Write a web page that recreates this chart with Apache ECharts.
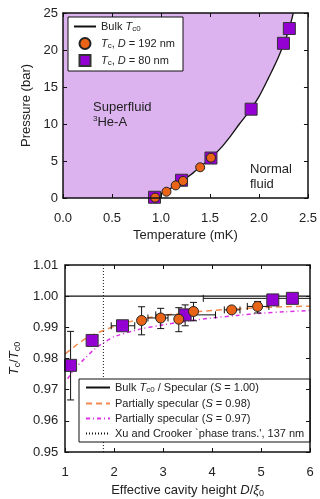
<!DOCTYPE html>
<html>
<head>
<meta charset="utf-8">
<script src="https://cdn.jsdelivr.net/npm/echarts@6/dist/echarts.min.js"></script>
<style>
    html, body { margin: 0; padding: 0; background: #fff; }
    #chart { width: 320px; height: 499px; }
</style>
</head>
<body>
<div id="chart"></div>
<script>
// top panel: phase diagram
var bulkT = [0.93, 1.0, 1.1, 1.2, 1.3, 1.4, 1.5, 1.6, 1.7, 1.8, 1.9, 2.0, 2.1, 2.2, 2.3, 2.35];
var bulkP = [0, 0.6, 1.3, 2.2, 3.1, 4.2, 5.3, 6.6, 8.2, 10.0, 11.7, 13.7, 16.3, 19.1, 22.5, 25];
var d192T = [0.94, 1.056, 1.15, 1.225, 1.40, 1.51];
var d192P = [0.05, 0.85, 1.7, 2.3, 4.15, 5.45];
var d80T = [0.934, 1.21, 1.51, 1.92, 2.25, 2.31];
var d80P = [0.1, 2.4, 5.4, 12.0, 20.9, 22.9];

// bottom panel: Tc/Tc0 vs D/xi0
var fitX = [1.0, 1.2, 1.4, 1.6, 1.8, 2.0, 2.5, 3.0, 3.5, 4.0, 4.5, 5.0, 5.5, 6.0];
var fit98 = [0.9815, 0.9840, 0.9862, 0.9878, 0.9891, 0.9903, 0.9925, 0.9938, 0.9947, 0.9954, 0.9959, 0.9963, 0.9966, 0.9968];
var fit97X = [1.05, 1.2, 1.4, 1.6, 1.8, 2.0, 2.5, 3.0, 3.5, 4.0, 4.5, 5.0, 5.5, 6.0];
var fit97 = [0.9735, 0.9768, 0.9800, 0.9830, 0.9852, 0.9870, 0.9893, 0.9908, 0.9920, 0.9930, 0.9938, 0.9945, 0.9950, 0.9954];
var specX = [1, 6];
var specY = [1.0, 1.0];
var xuX = [1.78, 1.78];
var xuY = [0.95, 1.01];

var sqX = [1.11, 1.55, 2.17, 3.45, 5.24, 5.64];
var sqY = [0.9778, 0.9858, 0.9905, 0.9940, 0.9988, 0.9993];
var sqXlo = [null, null, 1.94, 2.85, null, 3.82];
var sqXhi = [null, null, 2.42, 4.07, null, 6.6];
var sqYlo = [0.9667, 0.9850, null, 0.9905, 0.9978, null];
var sqYhi = [0.9887, 0.9868, null, 0.9972, 1.0005, null];

var ciX = [2.56, 2.95, 3.32, 3.62, 4.40, 4.93];
var ciY = [0.9922, 0.9930, 0.9926, 0.9951, 0.9956, 0.9967];
var ciXlo = [null, 2.69, null, null, 4.25, 4.72];
var ciXhi = [null, 3.10, null, null, 4.57, 5.16];
var ciYlo = [0.9876, 0.9896, 0.9886, 0.9921, 0.9950, 0.9946];
var ciYhi = [0.9966, 0.9961, 0.9963, 0.9980, 0.9962, 0.9983];

var FONT = '"Liberation Sans", Arial, sans-serif';
var PURPLE = '#9400d3';
var ORANGE = '#ea6417';
var SQUARE = 'path://M0,0H10V10H0Z';

function pairs(xs, ys) {
    return xs.map(function (x, i) { return [x, ys[i]]; });
}
function errRows(xs, ys, xlo, xhi, ylo, yhi) {
    var f = function (v) { return v === null ? '-' : v; };
    return xs.map(function (x, i) {
        return [x, ys[i], f(xlo[i]), f(xhi[i]), f(ylo[i]), f(yhi[i])];
    });
}
function renderErr(params, api) {
    var x = api.value(0), y = api.value(1);
    var st = { stroke: '#111', lineWidth: 1 };
    var cap = 3.5;
    var out = [];
    var seg = function (x1, y1, x2, y2) {
        out.push({ type: 'line', shape: { x1: x1, y1: y1, x2: x2, y2: y2 }, style: st });
    };
    var yl = api.value(4), yh = api.value(5);
    if (!isNaN(yl) && !isNaN(yh)) {
        var a = api.coord([x, yl]), b = api.coord([x, yh]);
        seg(a[0], a[1], b[0], b[1]);
        seg(a[0] - cap, a[1], a[0] + cap, a[1]);
        seg(b[0] - cap, b[1], b[0] + cap, b[1]);
    }
    var xl = api.value(2), xh = api.value(3);
    if (!isNaN(xl) && !isNaN(xh)) {
        var c = api.coord([xl, y]), d = api.coord([xh, y]);
        seg(c[0], c[1], d[0], d[1]);
        seg(c[0], c[1] - cap, c[0], c[1] + cap);
        seg(d[0], d[1] - cap, d[0], d[1] + cap);
    }
    return { type: 'group', children: out };
}

var richBase = {
    i: { fontStyle: 'italic', fontFamily: FONT, fontSize: 11, color: '#222' },
    s: { fontFamily: FONT, fontSize: 8, color: '#222', verticalAlign: 'bottom', padding: [5, 0, 0, 0] }
};
var richName = {
    i: { fontStyle: 'italic', fontFamily: FONT, fontSize: 13, color: '#222' },
    s: { fontFamily: FONT, fontSize: 9, color: '#222', padding: [6, 0, 0, 0] },
    n: { fontFamily: FONT, fontSize: 13, color: '#222' }
};

function boxAxis(grid, pos, min, max, interval, labels, fmt, margin) {
    return {
        type: 'value', gridIndex: grid, position: pos, min: min, max: max, interval: interval,
        z: 10,
        splitLine: { show: false },
        axisLine: { show: true, onZero: false, lineStyle: { color: '#111', width: 1.5 } },
        axisTick: { show: true, inside: true, length: 4, lineStyle: { color: '#111', width: 1 } },
        axisLabel: {
            show: labels, margin: margin, formatter: fmt,
            fontFamily: FONT, fontSize: 13, color: '#222'
        }
    };
}
// line entries in a legend: hide the marker the library adds on top of the line
function lineItem(name) {
    return { name: name, itemStyle: { opacity: 0 } };
}

var chart = echarts.init(document.getElementById('chart'));

var xa0 = boxAxis(0, 'bottom', 0, 2.5, 0.5, true, function (v) { return v.toFixed(1); }, 14);
xa0.name = 'Temperature (mK)';
xa0.nameLocation = 'middle';
xa0.nameGap = 31;
xa0.nameTextStyle = { fontFamily: FONT, fontSize: 13, color: '#222' };
var ya0 = boxAxis(0, 'left', 0, 25, 5, true, null, 5);
ya0.name = 'Pressure (bar)';
ya0.nameLocation = 'middle';
ya0.nameGap = 28;
ya0.nameTextStyle = { fontFamily: FONT, fontSize: 13, color: '#222' };

var xa2 = boxAxis(1, 'bottom', 1, 6, 1, true, null, 14);
xa2.name = 'Effective cavity height {i|D}{n|/}{i|ξ}{s|0}';
xa2.nameLocation = 'middle';
xa2.nameGap = 31;
xa2.nameTextStyle = { fontFamily: FONT, fontSize: 13, color: '#222', rich: richName };
var ya2 = boxAxis(1, 'left', 0.95, 1.01, 0.01, true, function (v) { return v.toFixed(2); }, 7);
ya2.name = '{i|T}{s|c}{n|/}{i|T}{s|c0}';
ya2.nameLocation = 'middle';
ya2.nameGap = 40;
ya2.nameTextStyle = { fontFamily: FONT, fontSize: 13, color: '#222', rich: richName };

var legendTop = {
    'Bulk Tc0': 'Bulk {i|T}{s|c0}',
    'Tc D=192': '{i|T}{s|c}, {i|D} = 192 nm',
    'Tc D=80': '{i|T}{s|c}, {i|D} = 80 nm'
};
var legendBot = {
    'Specular': 'Bulk {i|T}{s|c0} / Specular ({i|S} = 1.00)',
    'S98': 'Partially specular ({i|S} = 0.98)',
    'S97': 'Partially specular ({i|S} = 0.97)',
    'Xu': "Xu and Crooker `phase trans.', 137 nm"
};

var option = {
    animation: false,
    backgroundColor: '#fff',
    grid: [
        { left: 63, right: 10, top: 13, height: 185 },
        { left: 63, right: 10, top: 265, height: 187 }
    ],
    xAxis: [
        xa0,
        boxAxis(0, 'top', 0, 2.5, 0.5, false),
        xa2,
        boxAxis(1, 'top', 1, 6, 1, false)
    ],
    yAxis: [
        ya0,
        boxAxis(0, 'right', 0, 25, 5, false),
        ya2,
        boxAxis(1, 'right', 0.95, 1.01, 0.01, false)
    ],
    legend: [
        {
            data: [lineItem('Bulk Tc0'), 'Tc D=192', 'Tc D=80'],
            orient: 'vertical', left: 68, top: 17,
            padding: [4, 8, 4, 5], itemGap: 4, itemWidth: 22, itemHeight: 11,
            backgroundColor: '#fff', borderColor: '#111', borderWidth: 1, borderRadius: 0,
            formatter: function (n) { return legendTop[n]; },
            textStyle: { fontFamily: FONT, fontSize: 11, color: '#222', rich: richBase }
        },
        {
            data: [lineItem('Specular'), lineItem('S98'), lineItem('S97'), lineItem('Xu')],
            orient: 'vertical', left: 79, top: 379,
            padding: [3, 6, 3, 6], itemGap: 4, itemWidth: 24, itemHeight: 10,
            backgroundColor: '#fff', borderColor: '#111', borderWidth: 1, borderRadius: 0,
            formatter: function (n) { return legendBot[n]; },
            textStyle: { fontFamily: FONT, fontSize: 11, color: '#222', rich: richBase }
        }
    ],
    graphic: [
        { type: 'text', left: 93, top: 101, z: 5,
          style: { text: 'Superfluid', font: '13px ' + FONT, fill: '#222' } },
        { type: 'text', left: 93, top: 115, z: 5,
          style: { text: '{sup|3}He-A', font: '13px ' + FONT, fill: '#222',
                   rich: { sup: { fontSize: 8, fontFamily: FONT, fill: '#222', verticalAlign: 'top', padding: [0, 0, 6, 0] } } } },
        { type: 'text', left: 250, top: 163, z: 5,
          style: { text: 'Normal', font: '13px ' + FONT, fill: '#222' } },
        { type: 'text', left: 250, top: 178, z: 5,
          style: { text: 'fluid', font: '13px ' + FONT, fill: '#222' } }
    ],
    series: [
        {
            name: 'fill', type: 'line', xAxisIndex: 0, yAxisIndex: 0, z: 1,
            data: [[0, 0]].concat(pairs(bulkT, bulkP)), smooth: 0.3,
            symbol: 'none', lineStyle: { width: 0 },
            areaStyle: { origin: 'end', color: '#dcb3ee', opacity: 1 }
        },
        {
            name: 'Bulk Tc0', type: 'line', xAxisIndex: 0, yAxisIndex: 0, z: 3,
            data: pairs(bulkT, bulkP), smooth: 0.3, symbol: 'none',
            color: '#111', lineStyle: { color: '#111', width: 1.3 }
        },
        {
            name: 'Tc D=80', type: 'scatter', xAxisIndex: 0, yAxisIndex: 0, z: 4,
            data: pairs(d80T, d80P), symbol: SQUARE, symbolSize: 12, symbolKeepAspect: true,
            itemStyle: { color: PURPLE, borderColor: '#333', borderWidth: 1, opacity: 1 }
        },
        {
            name: 'Tc D=192', type: 'scatter', xAxisIndex: 0, yAxisIndex: 0, z: 5,
            data: pairs(d192T, d192P), symbol: 'circle', symbolSize: 9,
            itemStyle: { color: ORANGE, borderColor: '#222', borderWidth: 1, opacity: 1 }
        },
        {
            name: 'Specular', type: 'line', xAxisIndex: 2, yAxisIndex: 2, z: 2,
            data: pairs(specX, specY), symbol: 'none',
            color: '#111', lineStyle: { color: '#111', width: 1.3 }
        },
        {
            name: 'S98', type: 'line', xAxisIndex: 2, yAxisIndex: 2, z: 2,
            data: pairs(fitX, fit98), smooth: 0.3, symbol: 'none',
            color: '#f48a4c', lineStyle: { color: '#f48a4c', width: 1.5, type: [6, 4] }
        },
        {
            name: 'S97', type: 'line', xAxisIndex: 2, yAxisIndex: 2, z: 2,
            data: pairs(fit97X, fit97), smooth: 0.3, symbol: 'none',
            color: '#dd33e6', lineStyle: { color: '#dd33e6', width: 1.5, type: [4, 3, 1, 3] }
        },
        {
            name: 'Xu', type: 'line', xAxisIndex: 2, yAxisIndex: 2, z: 2,
            data: pairs(xuX, xuY), symbol: 'none',
            color: '#111', lineStyle: { color: '#111', width: 1, type: [1, 2] }
        },
        {
            name: 'errSq', type: 'custom', xAxisIndex: 2, yAxisIndex: 2, z: 3, clip: true,
            renderItem: renderErr, data: errRows(sqX, sqY, sqXlo, sqXhi, sqYlo, sqYhi)
        },
        {
            name: 'errCi', type: 'custom', xAxisIndex: 2, yAxisIndex: 2, z: 3, clip: true,
            renderItem: renderErr, data: errRows(ciX, ciY, ciXlo, ciXhi, ciYlo, ciYhi)
        },
        {
            name: 'sqBottom', type: 'scatter', xAxisIndex: 2, yAxisIndex: 2, z: 4,
            data: pairs(sqX, sqY), symbol: 'rect', symbolSize: 12,
            itemStyle: { color: PURPLE, borderColor: '#333', borderWidth: 1, opacity: 1 }
        },
        {
            name: 'ciBottom', type: 'scatter', xAxisIndex: 2, yAxisIndex: 2, z: 5,
            data: pairs(ciX, ciY), symbol: 'circle', symbolSize: 10,
            itemStyle: { color: ORANGE, borderColor: '#222', borderWidth: 1, opacity: 1 }
        }
    ]
};

chart.setOption(option);
</script>
</body>
</html>
